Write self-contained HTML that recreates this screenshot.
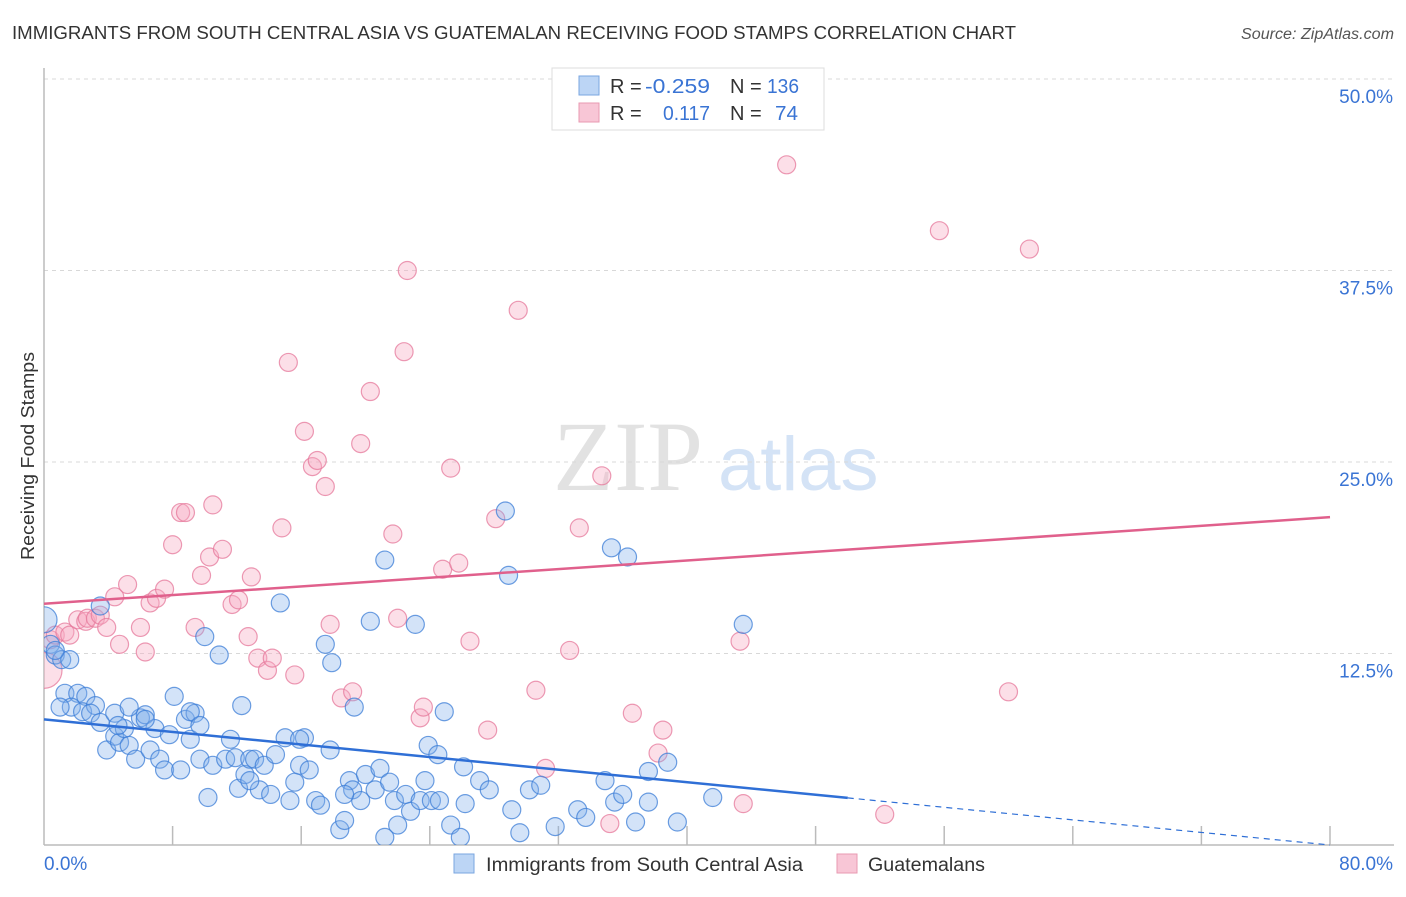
<!DOCTYPE html>
<html><head><meta charset="utf-8">
<style>
body{margin:0;background:#fff;font-family:"Liberation Sans",sans-serif;}
svg text{font-family:"Liberation Sans",sans-serif;}
</style></head>
<body>
<svg id="chart" width="1406" height="892" viewBox="0 0 1406 892">
<defs><clipPath id="pc"><rect x="44" y="60" width="1360" height="785"/></clipPath></defs>
<text x="12" y="39" font-size="18" fill="#333" textLength="1004" lengthAdjust="spacingAndGlyphs">IMMIGRANTS FROM SOUTH CENTRAL ASIA VS GUATEMALAN RECEIVING FOOD STAMPS CORRELATION CHART</text>
<text x="1241" y="39" font-size="15.5" fill="#555" font-style="italic" textLength="153" lengthAdjust="spacingAndGlyphs">Source: ZipAtlas.com</text>
<g>
<text x="553" y="490" font-size="100" fill="#e2e2e2" style="font-family:'Liberation Serif',serif">ZIP</text>
<text x="718" y="490" font-size="76" fill="#d4e3f6">atlas</text>
</g>
<g id="grid"></g>
<g id="axes"></g>
<g id="marks" clip-path="url(#pc)"></g>
<g id="lines"></g>
<text transform="translate(34,456) rotate(-90)" font-size="18" fill="#333" text-anchor="middle" textLength="208" lengthAdjust="spacingAndGlyphs">Receiving Food Stamps</text>
<g>
<rect x="552" y="68" width="272" height="62" fill="#fff" stroke="#ddd"/>
<rect x="579" y="76" width="20" height="19" fill="#bcd5f5" stroke="#7aa6e0"/>
<rect x="579" y="103" width="20" height="19" fill="#f8c6d6" stroke="#e89ab2"/>
<text y="93" font-size="20" fill="#333"><tspan x="610">R =</tspan><tspan x="645" fill="#3a74d4" textLength="65" lengthAdjust="spacingAndGlyphs">-0.259</tspan><tspan x="730">N =</tspan><tspan x="767" fill="#3a74d4" textLength="32" lengthAdjust="spacingAndGlyphs">136</tspan></text>
<text y="120" font-size="20" fill="#333"><tspan x="610">R =</tspan><tspan x="663" fill="#3a74d4" textLength="47" lengthAdjust="spacingAndGlyphs">0.117</tspan><tspan x="730">N =</tspan><tspan x="775" fill="#3a74d4" textLength="23" lengthAdjust="spacingAndGlyphs">74</tspan></text>
</g>
<g>
<rect x="454" y="854" width="20" height="19" fill="#bcd5f5" stroke="#7aa6e0"/>
<text x="486" y="871" font-size="19" fill="#333" textLength="317" lengthAdjust="spacingAndGlyphs">Immigrants from South Central Asia</text>
<rect x="837" y="854" width="20" height="19" fill="#f8c6d6" stroke="#e89ab2"/>
<text x="868" y="871" font-size="19" fill="#333" textLength="117" lengthAdjust="spacingAndGlyphs">Guatemalans</text>
</g>
</svg>
<script>
const blueX=[0,.4,.7,1.1,1.6,.7,3.5,1.3,2.1,2.6,1.7,2.4,3.2,2.9,3.5,3.9,4.4,4.7,5.0,5.3,5.7,6.0,6.3,6.6,6.9,7.2,7.5,7.8,8.1,8.5,8.8,9.1,9.4,9.7,10.0,10.2,10.5,10.9,11.3,11.6,11.9,12.1,12.3,12.5,12.8,13.1,13.4,13.7,14.1,14.4,14.7,15.0,15.3,15.6,15.9,16.2,16.5,16.9,17.2,17.5,17.8,17.9,18.4,18.7,19.0,19.2,19.3,19.7,20.0,20.3,20.6,20.9,21.2,21.5,21.8,22.0,22.5,22.8,23.1,23.4,23.7,23.9,24.1,24.5,24.6,24.9,25.3,25.9,26.1,26.2,27.1,27.7,28.7,28.9,29.1,29.6,30.2,30.9,31.8,33.2,33.7,34.9,35.3,35.5,36.0,36.3,36.8,37.6,37.6,38.8,39.4,41.6,43.5,21.2,15.9,12.8,9.1,4.4,4.6,6.3,5.3,9.7,1.0,18.7];
const blueY=[14.7,13.1,12.4,12.1,12.1,12.7,15.6,9.9,9.9,9.7,9.0,8.7,9.1,8.6,8.0,6.2,7.1,6.7,7.6,6.5,5.6,8.3,8.5,6.2,7.6,5.6,4.9,7.2,9.7,4.9,8.2,6.9,8.6,5.6,13.6,3.1,5.2,12.4,5.6,6.9,5.7,3.7,9.1,4.6,5.6,5.6,3.6,5.2,3.3,5.9,15.8,7.0,2.9,4.1,5.2,7.0,4.9,2.9,2.6,13.1,6.2,11.9,1.0,1.6,4.2,3.6,9.0,2.9,4.6,14.6,3.6,5.0,0.5,4.1,2.9,1.3,3.3,2.2,14.4,2.9,4.2,6.5,2.9,5.9,2.9,8.7,1.3,0.5,5.1,2.7,4.2,3.6,21.8,17.6,2.3,0.8,3.6,3.9,1.2,2.3,1.8,4.2,19.4,2.8,3.3,18.8,1.5,4.8,2.8,5.4,1.5,3.1,14.4,18.6,6.9,4.2,8.7,8.6,7.8,8.2,9.0,7.8,9.0,3.3];
const blueW=[2,1,1,1,1,1,1,1,1,1,1,1,1,1,1,1,1,1,1,1,1,1,1,1,1,1,1,1,1,1,1,1,1,1,1,1,1,1,1,1,1,1,1,1,1,1,1,1,1,1,1,1,1,1,1,1,1,1,1,1,1,1,1,1,1,1,1,1,1,1,1,1,1,1,1,1,1,1,1,1,1,1,1,1,1,1,1,1,1,1,1,1,1,1,1,1,1,1,1,1,1,1,1,1,1,1,1,1,1,1,1,1,1,1,1,1,1,1,1,1,1,1,1,1];
const pinkX=[0,.4,.7,1.3,1.6,2.1,2.6,2.7,3.2,3.5,3.9,4.4,4.7,5.2,6.0,6.3,6.6,7.0,7.5,8.0,8.5,8.8,9.4,9.8,10.3,10.5,11.1,11.7,12.1,12.7,12.9,13.3,13.9,14.2,14.8,15.2,15.6,16.2,16.7,17.0,17.5,17.8,18.5,19.2,19.7,20.3,21.7,22.0,22.4,22.6,23.4,23.6,24.8,25.3,25.8,26.5,27.6,28.1,29.5,30.6,31.2,32.7,33.3,34.7,35.2,36.6,38.2,38.5,43.3,43.5,46.2,52.3,55.7,60.0,61.3];
const pinkY=[11.4,13.4,13.7,13.9,13.7,14.7,14.6,14.8,14.8,15.0,14.2,16.2,13.1,17.0,14.2,12.6,15.8,16.1,16.7,19.6,21.7,21.7,14.2,17.6,18.8,22.2,19.3,15.7,16.0,13.6,17.5,12.2,11.4,12.2,20.7,31.5,11.1,27.0,24.7,25.1,23.4,14.4,9.6,10.0,26.2,29.6,20.3,14.8,32.2,37.5,8.3,9.0,18.0,24.6,18.4,13.3,7.5,21.3,34.9,10.1,5.0,12.7,20.7,24.1,1.4,8.6,6.0,7.5,13.3,2.7,44.4,2.0,40.1,10.0,38.9];
const pinkW=[3,1,1,1,1,1,1,1,1,1,1,1,1,1,1,1,1,1,1,1,1,1,1,1,1,1,1,1,1,1,1,1,1,1,1,1,1,1,1,1,1,1,1,1,1,1,1,1,1,1,1,1,1,1,1,1,1,1,1,1,1,1,1,1,1,1,1,1,1,1,1,1,1,1,1];
const yTicks=[12.5,25,37.5,50];
const yTickLabels=["12.5%","25.0%","37.5%","50.0%"];
const xTicks=[0,8,16,24,32,40,48,56,64,72,80];
const blueTrend=[8.2,-0.1025];
const pinkTrend=[15.75,0.0706];
const blueSolidEnd=50;

const NS="http://www.w3.org/2000/svg";
const sx=v=>44+v*16.075, sy=v=>845-v*15.32;
function mk(tag,attrs,parent){const e=document.createElementNS(NS,tag);for(const k in attrs)e.setAttribute(k,attrs[k]);document.getElementById(parent).appendChild(e);return e;}
yTicks.forEach((t,i)=>{
 const g=mk('line',{x1:44,x2:1394,y1:sy(t),y2:sy(t),stroke:'#d8d8d8','stroke-dasharray':'4,4'},'grid');
 
 
 const l=mk('text',{x:1393,y:sy(t)+24,'font-size':19,fill:'#3a74d4','text-anchor':'end'},'grid');
 l.textContent=yTickLabels[i];
 
 
});
const ax=mk('line',{x1:44,x2:1394,y1:845,y2:845,stroke:'#bbb','stroke-width':1.5},'axes');


const ay=mk('line',{x1:44,x2:44,y1:68,y2:845,stroke:'#bbb','stroke-width':1.5},'axes');


xTicks.slice(1).forEach(t=>{
 const k=mk('line',{x1:sx(t),x2:sx(t),y1:826,y2:845,stroke:'#bbb','stroke-width':1.5},'axes');
 
 
});
const x0=mk('text',{x:44,y:870,'font-size':19,fill:'#3a74d4'},'axes');x0.textContent='0.0%';


const x1=mk('text',{x:1393,y:870,'font-size':19,fill:'#3a74d4','text-anchor':'end'},'axes');x1.textContent='80.0%';


function dots(X,Y,W,fill,stroke,name){
 X.forEach((x,i)=>{
  const c=mk('circle',{cx:sx(x),cy:sy(Y[i]),r:W[i]===3?18:(W[i]===2?13:9),fill:fill,stroke:stroke,'stroke-width':1.2},'marks');
  
  
 });
}
dots(pinkX,pinkY,pinkW,'rgba(246,170,195,0.38)','rgba(230,120,155,0.75)','guatemalan-point');
dots(blueX,blueY,blueW,'rgba(130,175,235,0.35)','rgba(60,125,215,0.75)','south-central-asia-point');
const pl=mk('line',{x1:sx(0),y1:sy(pinkTrend[0]),x2:sx(80),y2:sy(pinkTrend[0]+80*pinkTrend[1]),stroke:'#e0608c','stroke-width':2.5},'lines');


const bl=mk('line',{x1:sx(0),y1:sy(blueTrend[0]),x2:sx(blueSolidEnd),y2:sy(blueTrend[0]+blueSolidEnd*blueTrend[1]),stroke:'#2f6fd6','stroke-width':2.5},'lines');


const bd=mk('line',{x1:sx(blueSolidEnd),y1:sy(blueTrend[0]+blueSolidEnd*blueTrend[1]),x2:sx(80),y2:sy(blueTrend[0]+80*blueTrend[1]),stroke:'#2f6fd6','stroke-width':1.2,'stroke-dasharray':'6,5'},'lines');


</script>
</body></html>
